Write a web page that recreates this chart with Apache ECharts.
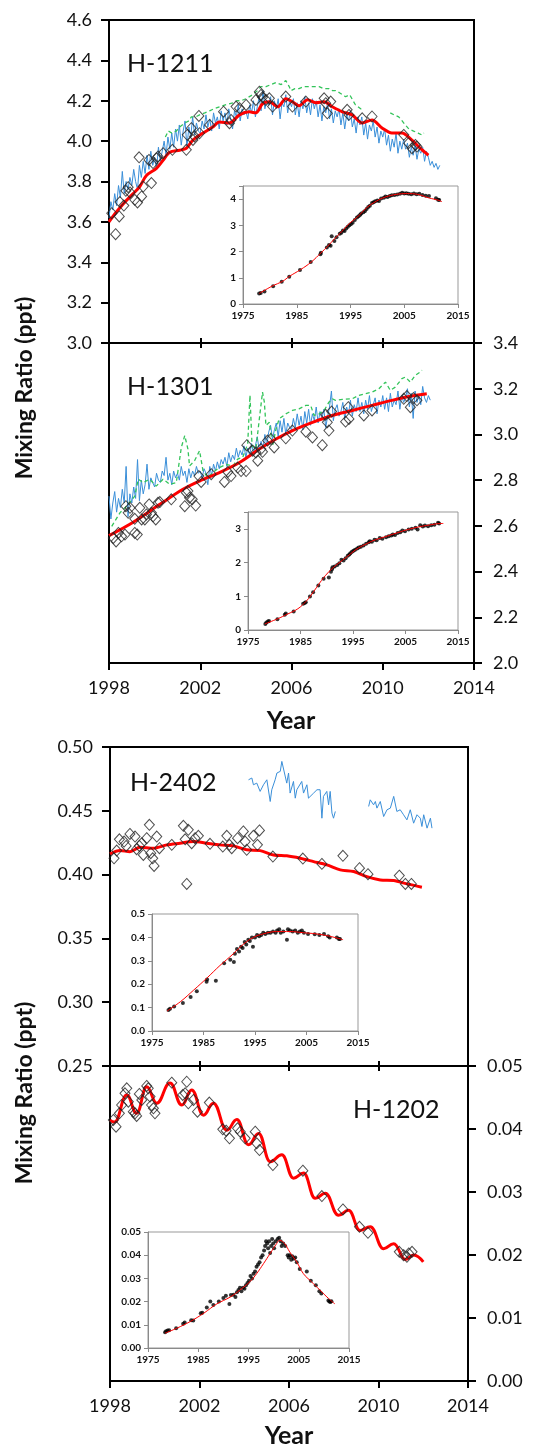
<!DOCTYPE html>
<html>
<head>
<meta charset="utf-8">
<script src="https://cdn.jsdelivr.net/npm/echarts@6/dist/echarts.min.js"></script>
<style>
  html, body { margin: 0; padding: 0; background: #fff; }
  #chart { width: 538px; height: 1448px; }
</style>
</head>
<body>
<div id="chart"></div>
<script>
// halon mixing ratios, 4 panels with long-term insets

// ---- H-1211 ----
const red1211 = [[1998.0,3.60],[1998.26,3.64],[1998.63,3.69],[1999.06,3.74],[1999.35,3.775],[1999.64,3.83],[2000.08,3.865],[2000.37,3.905],[2000.66,3.945],[2001.1,3.955],[2001.39,3.965],[2001.68,4.005],[2002.12,4.04],[2002.55,4.07],[2002.84,4.095],[2003.28,4.09],[2003.72,4.13],[2004.15,4.145],[2004.44,4.14],[2004.73,4.185],[2005.03,4.195],[2005.39,4.17],[2005.75,4.21],[2006.04,4.195],[2006.33,4.175],[2006.7,4.205],[2007.06,4.19],[2007.43,4.195],[2007.79,4.17],[2008.23,4.145],[2008.66,4.13],[2009.1,4.09],[2009.53,4.105],[2009.97,4.065],[2010.4,4.04],[2010.84,4.04],[2011.28,4.005],[2011.64,3.965],[2012.0,3.93]];
// monthly, starting Jan 1998
const blue1211 = [
  3.62,3.70,3.66,3.74,3.68,3.78,3.72,3.85,3.74,3.80,3.76,3.82,
  3.78,3.86,3.80,3.76,3.88,3.82,3.90,3.84,3.93,3.86,3.95,3.88,
  3.92,3.86,3.97,3.90,3.95,4.00,3.93,4.02,3.96,4.04,3.97,4.06,
  4.00,4.08,3.98,4.05,4.10,3.97,4.07,4.02,4.12,4.03,4.09,4.05,
  4.04,4.10,4.06,4.13,4.07,4.11,4.05,4.14,4.09,4.12,4.06,4.15,
  4.10,4.14,4.08,4.16,4.11,4.06,4.15,4.12,4.18,4.10,4.16,4.13,
  4.15,4.11,4.18,4.14,4.20,4.12,4.17,4.22,4.15,4.25,4.16,4.20,
  4.18,4.22,4.13,4.20,4.16,4.21,4.11,4.19,4.17,4.23,4.14,4.20,
  4.17,4.21,4.13,4.19,4.12,4.20,4.16,4.22,4.14,4.19,4.13,4.21,
  4.16,4.20,4.12,4.18,4.10,4.17,4.14,4.19,4.11,4.16,4.09,4.15,
  4.12,4.16,4.08,4.14,4.06,4.13,4.10,4.15,4.07,4.11,4.04,4.12,
  4.08,4.12,4.03,4.09,4.01,4.08,4.05,4.10,4.02,4.07,3.99,4.05,
  4.02,4.06,3.98,4.03,3.95,4.01,3.97,4.04,3.94,4.00,3.96,4.01,
  3.96,3.99,3.92,3.97,3.93,3.98,3.91,3.96,3.94,3.97,3.90,3.95,
  3.92,3.88,3.90,3.87,3.89,3.86,3.88
];
const green1211a = [[2000.47,4.02],[2000.6,4.05],[2000.75,4.04],[2000.95,4.05],[2001.1,4.07],[2001.32,4.09],[2001.5,4.10],[2001.61,4.12],[2001.8,4.12],[2001.97,4.13],[2002.2,4.14],[2002.41,4.15],[2002.6,4.16],[2002.84,4.17],[2003.1,4.18],[2003.43,4.19],[2003.6,4.20],[2003.79,4.20],[2004.0,4.21],[2004.3,4.23],[2004.5,4.25],[2004.66,4.27],[2004.88,4.27],[2005.1,4.28],[2005.32,4.29],[2005.55,4.28],[2005.75,4.30],[2005.9,4.27],[2005.97,4.25],[2006.15,4.26],[2006.33,4.26],[2006.55,4.27],[2006.77,4.27],[2007.0,4.27],[2007.21,4.27],[2007.4,4.26],[2007.64,4.26],[2007.8,4.25],[2007.93,4.25],[2008.1,4.24],[2008.37,4.22],[2008.55,4.23],[2008.7,4.20],[2008.8,4.18],[2009.03,4.16],[2009.17,4.16]];
const green1211b = [[2010.33,4.14],[2010.5,4.13],[2010.7,4.12],[2010.85,4.10],[2010.99,4.08],[2011.15,4.06],[2011.35,4.05],[2011.55,4.04],[2011.72,4.03],[2011.8,4.04]];
const obs1211 = [[1998.12,3.643],[1998.29,3.539],[1998.48,3.698],[1998.45,3.627],[1998.65,3.681],[1998.74,3.754],[1998.84,3.772],[1998.92,3.746],[1999.13,3.709],[1999.25,3.696],[1999.32,3.92],[1999.43,3.726],[1999.5,3.775],[1999.75,3.907],[1999.86,3.792],[1999.93,3.891],[2000.08,3.915],[2000.15,3.924],[2000.37,3.94],[2000.78,3.957],[2001.39,3.957],[2001.43,4.031],[2001.61,4.064],[2001.68,4.006],[2001.75,4.023],[2001.94,4.125],[2001.97,4.039],[2002.41,4.08],[2003.02,4.146],[2003.28,4.089],[2003.35,4.105],[2003.57,4.171],[2003.72,4.163],[2004.01,4.179],[2004.44,4.204],[2004.59,4.245],[2004.66,4.229],[2004.73,4.217],[2004.88,4.204],[2005.03,4.212],[2005.17,4.171],[2005.75,4.221],[2006.04,4.171],[2006.63,4.196],[2007.43,4.212],[2007.5,4.188],[2007.57,4.138],[2007.72,4.196],[2008.44,4.155],[2008.52,4.13],[2009.1,4.113],[2009.53,4.122],[2010.92,4.031],[2011.13,3.99],[2011.28,3.965],[2011.43,3.981],[2011.5,3.973]];
const inRed1211 = [[1978.0,0.40],[1980.4,0.68],[1982.4,0.87],[1983.6,1.05],[1985.7,1.31],[1987.7,1.60],[1989.5,1.95],[1990.7,2.19],[1992.0,2.48],[1993.4,2.77],[1994.8,3.07],[1996.5,3.36],[1998.0,3.67],[1999.8,3.92],[2001.5,4.08],[2003.5,4.18],[2005.5,4.21],[2007.5,4.18],[2009.5,4.05],[2011.5,3.95],[2012.0,3.90]];
const inObs1211 = [[1978.0,0.40],[1978.3,0.42],[1979.0,0.48],[1980.6,0.68],[1982.2,0.85],[1983.6,1.04],[1985.6,1.30],[1987.6,1.60],[1989.4,1.90],[1989.5,1.95],[1990.6,2.15],[1991.0,2.25],[1991.3,2.22],[1991.5,2.58],[1992.0,2.40],[1992.4,2.55],[1993.0,2.68],[1993.3,2.72],[1993.6,2.80],[1993.9,2.78],[1994.2,2.88],[1994.5,2.95],[1994.8,3.00],[1995.1,3.05],[1995.4,3.10],[1995.8,3.20],[1996.2,3.30],[1996.5,3.35],[1996.8,3.40],[1997.0,3.45],[1997.4,3.50],[1997.7,3.55],[1998.0,3.62],[1998.3,3.70],[1998.6,3.75],[1999.0,3.85],[1999.3,3.88],[1999.6,3.92],[2000.0,3.95],[2000.3,3.93],[2000.7,4.02],[2001.2,4.05],[2001.5,4.10],[2001.9,4.08],[2002.3,4.12],[2002.7,4.15],[2003.2,4.16],[2003.7,4.18],[2004.2,4.20],[2004.6,4.24],[2005.0,4.21],[2005.4,4.22],[2005.8,4.20],[2006.3,4.19],[2006.8,4.21],[2007.3,4.19],[2007.8,4.20],[2008.4,4.16],[2009.0,4.13],[2009.6,4.12],[2010.9,4.03],[2011.3,3.98],[2011.5,3.97]];

// ---- H-1301 ----
const red1301 = [[1998.0,2.557],[1999.06,2.616],[2000.23,2.694],[2001.24,2.76],[2001.97,2.796],[2002.84,2.833],[2003.72,2.877],[2004.59,2.936],[2005.32,2.98],[2006.04,3.017],[2006.92,3.053],[2007.79,3.083],[2008.66,3.105],[2009.53,3.127],[2010.4,3.149],[2011.28,3.168],[2011.93,3.178]];
// monthly, starting Jan 1998
const blue1301 = [
  2.73,2.63,2.70,2.75,2.66,2.72,2.68,2.76,2.70,2.86,2.64,2.74,
  2.70,2.77,2.72,2.89,2.71,2.80,2.74,2.78,2.87,2.76,2.81,2.79,
  2.77,2.83,2.80,2.79,2.84,2.82,2.90,2.80,2.83,2.78,2.84,2.81,
  2.83,2.80,2.86,2.82,2.84,2.79,2.85,2.81,2.84,2.82,2.86,2.83,
  2.84,2.81,2.85,2.83,2.78,2.86,2.82,2.87,2.84,2.88,2.85,2.89,
  2.87,2.90,2.86,2.92,2.88,2.91,2.89,2.94,2.90,2.93,2.91,2.95,
  2.90,2.94,2.91,2.96,2.92,2.95,2.99,2.93,2.97,2.94,3.00,2.95,
  3.01,3.04,2.98,3.02,3.05,2.99,3.06,3.01,3.07,3.00,3.05,3.03,
  3.02,3.07,3.03,3.09,3.04,3.08,3.02,3.10,3.05,3.11,3.04,3.09,
  3.06,3.12,3.05,3.10,3.07,3.11,3.03,3.08,3.12,3.19,3.06,3.11,
  3.13,3.08,3.10,3.14,3.07,3.12,3.09,3.15,3.08,3.13,3.10,3.16,
  3.10,3.14,3.09,3.15,3.11,3.17,3.10,3.13,3.16,3.09,3.15,3.12,
  3.17,3.11,3.16,3.10,3.18,3.12,3.15,3.13,3.19,3.11,3.17,3.14,
  3.16,3.20,3.12,3.18,3.07,3.19,3.14,3.17,3.13,3.21,3.16,3.14,
  3.17,3.15
];
const green1301 = [[1998.12,2.598],[1998.48,2.657],[1998.77,2.686],[1999.13,2.73],[1999.28,2.804],[1999.5,2.789],[1999.78,2.804],[2000.07,2.774],[2000.37,2.804],[2000.66,2.782],[2000.95,2.789],[2001.17,2.943],[2001.32,2.995],[2001.46,2.936],[2001.53,2.862],[2001.75,2.885],[2001.97,2.929],[2002.12,2.841],[2002.33,2.811],[2002.55,2.833],[2002.84,2.855],[2003.13,2.869],[2003.43,2.862],[2003.64,2.892],[2003.86,2.90],[2004.08,2.958],[2004.18,3.171],[2004.27,2.951],[2004.44,2.936],[2004.59,3.068],[2004.73,3.185],[2004.81,3.141],[2004.88,3.039],[2005.03,3.053],[2005.17,2.951],[2005.32,3.024],[2005.46,3.068],[2005.75,3.09],[2006.04,3.105],[2006.33,3.112],[2006.63,3.127],[2006.84,3.127],[2006.99,3.083],[2007.21,3.09],[2007.43,3.105],[2007.64,3.141],[2007.79,3.156],[2007.93,3.149],[2008.23,3.153],[2008.66,3.156],[2008.95,3.171],[2009.24,3.178],[2009.53,3.185],[2009.83,3.20],[2010.12,3.229],[2010.33,3.193],[2010.55,3.207],[2010.84,3.244],[2010.99,3.251],[2011.21,3.229],[2011.43,3.259],[2011.64,3.273],[2011.72,3.281]];
const obs1301 = [[1998.19,2.547],[1998.31,2.532],[1998.41,2.569],[1998.55,2.554],[1998.7,2.562],[1998.74,2.686],[1998.84,2.657],[1998.92,2.679],[1999.13,2.569],[1999.24,2.562],[1999.13,2.631],[1999.35,2.679],[1999.43,2.628],[1999.57,2.628],[1999.64,2.65],[1999.76,2.694],[1999.86,2.657],[1999.93,2.642],[2000.05,2.628],[2000.15,2.701],[2000.23,2.704],[2000.73,2.716],[2001.32,2.686],[2001.39,2.745],[2001.46,2.752],[2001.53,2.723],[2001.65,2.716],[2001.8,2.689],[2001.94,2.818],[2002.04,2.792],[2002.48,2.826],[2003.06,2.792],[2003.21,2.836],[2003.35,2.818],[2003.64,2.855],[2003.79,2.84],[2004.01,2.84],[2004.04,2.953],[2004.3,2.929],[2004.44,2.921],[2004.52,2.885],[2004.66,2.936],[2004.73,2.924],[2004.95,2.973],[2005.1,2.98],[2005.24,2.943],[2005.75,2.983],[2006.04,3.017],[2006.63,3.012],[2006.92,2.987],[2007.35,2.953],[2007.5,3.086],[2007.57,3.053],[2007.64,3.017],[2007.76,3.10],[2008.37,3.056],[2008.52,3.068],[2008.49,3.119],[2009.17,3.083],[2009.53,3.105],[2010.92,3.156],[2011.06,3.168],[2011.21,3.119],[2011.35,3.159],[2011.5,3.149]];
const inRed1301 = [[1978.2,0.18],[1980.6,0.33],[1982.5,0.47],[1984.5,0.63],[1986.0,0.84],[1987.0,1.03],[1988.0,1.25],[1989.0,1.47],[1990.0,1.66],[1991.0,1.82],[1992.0,1.95],[1993.0,2.07],[1994.0,2.19],[1995.0,2.32],[1996.0,2.43],[1997.5,2.55],[1999.0,2.66],[2001.0,2.76],[2003.0,2.86],[2005.0,2.96],[2007.0,3.04],[2009.0,3.10],[2011.0,3.15],[2012.2,3.16]];
const inObs1301 = [[1978.3,0.18],[1978.5,0.22],[1978.8,0.25],[1979.0,0.27],[1980.6,0.32],[1982.0,0.45],[1982.2,0.49],[1983.7,0.55],[1985.5,0.78],[1985.8,0.80],[1986.0,0.82],[1986.8,0.99],[1987.4,1.12],[1988.4,1.32],[1989.4,1.52],[1990.4,1.56],[1990.8,1.73],[1991.0,1.80],[1991.1,1.86],[1991.5,1.88],[1992.0,1.93],[1992.4,1.98],[1992.8,2.08],[1993.2,2.06],[1993.6,2.13],[1994.0,2.20],[1994.3,2.24],[1994.5,2.28],[1994.8,2.32],[1995.1,2.35],[1995.4,2.38],[1995.8,2.42],[1996.1,2.45],[1996.5,2.47],[1997.0,2.51],[1997.5,2.56],[1998.0,2.60],[1998.2,2.63],[1998.6,2.62],[1999.1,2.68],[1999.5,2.66],[2000.1,2.73],[2000.6,2.71],[2001.3,2.75],[2001.8,2.78],[2002.3,2.80],[2002.6,2.83],[2003.0,2.82],[2003.5,2.88],[2004.0,2.90],[2004.4,2.95],[2004.9,2.93],[2005.6,2.98],[2006.2,3.00],[2006.9,3.03],[2007.3,2.98],[2007.8,3.11],[2008.3,3.07],[2008.7,3.10],[2009.3,3.08],[2009.9,3.11],[2010.5,3.12],[2011.2,3.18],[2011.4,3.16]];

// ---- H-2402 ----
const red2402 = [[1998.0,0.4162],[1998.45,0.4188],[1998.89,0.418],[1999.34,0.4215],[1999.94,0.4207],[2000.54,0.4233],[2001.13,0.4246],[2001.73,0.4259],[2002.32,0.4246],[2002.92,0.4233],[2003.52,0.4225],[2004.11,0.4194],[2004.71,0.4188],[2005.31,0.4154],[2005.9,0.4147],[2006.5,0.4128],[2007.1,0.4102],[2007.69,0.4076],[2008.29,0.4037],[2008.89,0.4024],[2009.48,0.3984],[2010.08,0.3958],[2010.68,0.3953],[2011.27,0.3927],[2011.94,0.3901]];
const blue2402a = [[2004.19,0.4743],[2004.34,0.4757],[2004.41,0.4704],[2004.56,0.4717],[2004.71,0.4652],[2004.86,0.4704],[2005.01,0.4743],[2005.16,0.4573],[2005.23,0.4665],[2005.38,0.4743],[2005.46,0.4796],[2005.61,0.4809],[2005.68,0.4887],[2005.75,0.4874],[2005.9,0.4717],[2005.98,0.4796],[2006.05,0.4639],[2006.2,0.473],[2006.28,0.4599],[2006.35,0.4665],[2006.43,0.4678],[2006.57,0.473],[2006.65,0.4639],[2006.8,0.4704],[2006.87,0.4599],[2006.95,0.4613],[2007.1,0.4639],[2007.25,0.4665],[2007.39,0.4665],[2007.47,0.4442],[2007.54,0.4613],[2007.69,0.4652],[2007.77,0.4547],[2007.84,0.4652],[2007.92,0.4482],[2007.99,0.4442],[2008.07,0.4495]];
const blue2402b = [[2009.56,0.4534],[2009.63,0.4586],[2009.78,0.4547],[2009.86,0.4573],[2009.93,0.4521],[2010.08,0.4573],[2010.23,0.4455],[2010.38,0.4508],[2010.53,0.4521],[2010.68,0.4613],[2010.82,0.4495],[2010.97,0.4508],[2011.12,0.4469],[2011.27,0.4429],[2011.42,0.4508],[2011.57,0.4403],[2011.72,0.4469],[2011.87,0.4442],[2011.94,0.4377],[2012.02,0.4469],[2012.17,0.4364],[2012.32,0.4442],[2012.39,0.4364]];
const obs2402 = [[1998.18,0.4128],[1998.3,0.4188],[1998.42,0.4277],[1998.63,0.4259],[1998.72,0.4225],[1998.89,0.4319],[1999.12,0.4298],[1999.19,0.4199],[1999.31,0.4225],[1999.42,0.4246],[1999.49,0.4154],[1999.64,0.4285],[1999.76,0.439],[1999.82,0.4168],[1999.91,0.4128],[1999.97,0.4068],[2000.09,0.4298],[2000.21,0.4207],[2000.76,0.4233],[2001.28,0.4382],[2001.36,0.4277],[2001.43,0.3927],[2001.5,0.4351],[2001.65,0.4246],[2001.8,0.4285],[2001.95,0.4304],[2002.47,0.4241],[2003.04,0.422],[2003.22,0.4304],[2003.34,0.4233],[2003.44,0.4207],[2003.7,0.4285],[2003.96,0.4338],[2004.04,0.4259],[2004.11,0.4194],[2004.41,0.4304],[2004.59,0.4233],[2004.68,0.4346],[2005.28,0.4141],[2006.62,0.4126],[2007.47,0.4084],[2008.41,0.4147],[2009.15,0.405],[2009.53,0.4003],[2010.93,0.3992],[2011.2,0.3927],[2011.47,0.3927]];
const inRed2402 = [[1977.9,0.085],[1980.5,0.125],[1983.1,0.175],[1985.6,0.225],[1988.2,0.28],[1990.8,0.33],[1992.7,0.37],[1994.7,0.40],[1996.6,0.415],[1999.2,0.425],[2001.8,0.425],[2004.4,0.42],[2006.9,0.415],[2009.5,0.405],[2012.1,0.39]];
const inObs2402 = [[1978.2,0.09],[1978.5,0.095],[1979.3,0.105],[1981.0,0.12],[1982.5,0.145],[1983.7,0.17],[1985.6,0.21],[1985.7,0.22],[1987.4,0.215],[1989.0,0.29],[1990.2,0.305],[1990.9,0.295],[1991.1,0.33],[1991.5,0.35],[1991.9,0.34],[1992.3,0.36],[1992.6,0.355],[1993.0,0.38],[1993.3,0.37],[1993.7,0.39],[1994.0,0.385],[1994.4,0.40],[1994.6,0.36],[1995.0,0.40],[1995.4,0.41],[1995.8,0.405],[1996.2,0.41],[1996.6,0.42],[1997.0,0.415],[1997.5,0.42],[1998.0,0.42],[1998.5,0.425],[1999.0,0.42],[1999.3,0.43],[1999.7,0.435],[2000.0,0.42],[2000.5,0.425],[2001.2,0.39],[2001.4,0.435],[2001.8,0.43],[2002.3,0.425],[2002.8,0.43],[2003.3,0.42],[2003.7,0.425],[2004.1,0.43],[2004.5,0.42],[2005.3,0.415],[2006.6,0.413],[2007.5,0.41],[2008.4,0.415],[2009.2,0.405],[2009.5,0.40],[2010.9,0.40],[2011.3,0.393],[2011.5,0.393]];

// ---- H-1202 ----
const red1202 = [[1998.0,0.0414],[1998.2,0.0411],[1998.75,0.0454],[1999.19,0.0425],[1999.64,0.0467],[2000.09,0.0441],[2000.68,0.0473],[2001.21,0.0438],[2001.65,0.0462],[2002.18,0.0422],[2002.62,0.0441],[2003.22,0.0398],[2003.67,0.0415],[2004.19,0.0375],[2004.64,0.0393],[2005.16,0.0348],[2005.68,0.0359],[2006.2,0.0322],[2006.65,0.033],[2007.17,0.029],[2007.62,0.0298],[2008.21,0.0263],[2008.66,0.0271],[2009.18,0.0239],[2009.63,0.0245],[2010.23,0.021],[2010.68,0.0218],[2011.2,0.0193],[2011.57,0.02],[2012.0,0.0189]];
const obs1202 = [[1998.15,0.04143],[1998.27,0.04037],[1998.42,0.04249],[1998.52,0.04381],[1998.67,0.04567],[1998.75,0.04646],[1998.82,0.04434],[1999.04,0.04275],[1999.12,0.04249],[1999.19,0.04207],[1999.31,0.04556],[1999.42,0.04461],[1999.64,0.04683],[1999.71,0.04646],[1999.79,0.04514],[1999.86,0.04381],[1999.94,0.04328],[2000.01,0.04249],[2000.76,0.04736],[2001.25,0.0454],[2001.36,0.04567],[2001.43,0.0475],[2001.5,0.04408],[2001.73,0.04461],[2001.91,0.04275],[2002.44,0.04419],[2003.04,0.03995],[2003.19,0.03974],[2003.34,0.03852],[2003.7,0.04011],[2003.82,0.03958],[2004.04,0.03852],[2004.49,0.03958],[2004.56,0.03772],[2004.68,0.03666],[2005.28,0.03428],[2006.62,0.03338],[2007.47,0.02935],[2008.41,0.02723],[2009.15,0.02448],[2009.53,0.02352],[2010.93,0.0205],[2011.12,0.01997],[2011.27,0.01971],[2011.35,0.02024],[2011.5,0.0205]];
const inRed1202 = [[1978.4,0.0064],[1980.8,0.0086],[1983.4,0.0114],[1986.1,0.015],[1988.7,0.019],[1991.4,0.022],[1993.3,0.025],[1995.3,0.0286],[1996.6,0.032],[1998.0,0.0364],[1999.3,0.0407],[2000.6,0.045],[2001.2,0.0464],[2002.2,0.045],[2003.2,0.0414],[2004.6,0.0371],[2005.9,0.0321],[2007.5,0.0286],[2009.2,0.025],[2010.9,0.0214],[2012.2,0.019]];
const inObs1202 = [[1978.4,0.0068],[1978.6,0.0072],[1978.9,0.0075],[1979.2,0.0077],[1980.6,0.0085],[1982.0,0.0105],[1982.3,0.011],[1983.6,0.012],[1984.0,0.0118],[1985.5,0.015],[1985.8,0.0152],[1986.7,0.0175],[1987.4,0.020],[1988.0,0.0185],[1989.1,0.020],[1990.0,0.0215],[1990.5,0.0225],[1991.2,0.019],[1991.5,0.0228],[1992.0,0.023],[1992.4,0.022],[1992.7,0.024],[1993.0,0.025],[1993.3,0.026],[1993.6,0.0245],[1993.9,0.026],[1994.2,0.0255],[1994.5,0.027],[1994.8,0.028],[1995.1,0.029],[1995.4,0.031],[1995.7,0.030],[1996.0,0.032],[1996.3,0.033],[1996.6,0.035],[1996.9,0.036],[1997.2,0.037],[1997.5,0.039],[1997.8,0.040],[1998.1,0.042],[1998.3,0.044],[1998.5,0.046],[1998.7,0.045],[1998.9,0.043],[1999.1,0.046],[1999.3,0.041],[1999.5,0.044],[1999.7,0.047],[1999.9,0.045],[2000.1,0.043],[2000.4,0.046],[2000.8,0.047],[2001.1,0.0475],[2001.4,0.046],[2001.6,0.044],[2001.9,0.045],[2002.3,0.044],[2002.8,0.040],[2003.0,0.039],[2003.2,0.040],[2003.5,0.038],[2003.7,0.0395],[2004.0,0.0385],[2004.3,0.039],[2004.6,0.037],[2005.2,0.034],[2006.6,0.033],[2007.4,0.029],[2008.4,0.027],[2009.1,0.0245],[2009.5,0.0235],[2010.9,0.0205],[2011.1,0.020],[2011.3,0.0198],[2011.5,0.0202]];

const monthly = (vals, start) => vals.map((v, i) => [start + i / 12, v]);

const FONT = 'Lato, "Open Sans", sans-serif';
const BLUE = '#3a8fd9';
const GREEN = '#33c45a';
const RED = '#ff0000';
const yearFmt = v => String(Math.round(v));

const chart = echarts.init(document.getElementById('chart'), null, { renderer: 'canvas' });

function mainX(grid, opts) {
  return Object.assign({
    type: 'value', gridIndex: grid, min: 1998, max: 2014, interval: 4,
    splitLine: { show: false },
    axisLine: { lineStyle: { color: '#000', width: 2 } },
    axisTick: { inside: true, length: 5, lineStyle: { color: '#000', width: 2 } },
    axisLabel: { show: false }
  }, opts);
}
function mainY(grid, opts) {
  return Object.assign({
    type: 'value', gridIndex: grid,
    splitLine: { show: false },
    axisLine: { lineStyle: { color: '#000', width: 2 } },
    axisTick: { length: 8, lineStyle: { color: '#000', width: 2 } }
  }, opts);
}
function insetX(grid) {
  return {
    type: 'value', gridIndex: grid, min: 1975, max: 2015, interval: 10,
    splitLine: { show: false },
    axisLine: { lineStyle: { color: '#8a8a8a', width: 1 } },
    axisTick: { length: 4, lineStyle: { color: '#8a8a8a' } },
    axisLabel: { fontFamily: FONT, fontSize: 10, fontWeight: 'bold', color: '#111', margin: 7, formatter: yearFmt }
  };
}
function insetY(grid, max, interval, fmt) {
  return {
    type: 'value', gridIndex: grid, min: 0, max: max, interval: interval,
    splitLine: { show: false },
    axisLine: { show: true, lineStyle: { color: '#8a8a8a', width: 1 } },
    axisTick: { show: true, length: 4, lineStyle: { color: '#8a8a8a' } },
    axisLabel: { fontFamily: FONT, fontSize: 10, fontWeight: 'bold', color: '#111', margin: 7, formatter: fmt }
  };
}
const yLabel = (margin, digits) => ({ fontFamily: FONT, fontSize: 18, color: '#111', margin: margin, formatter: v => v.toFixed(digits) });
const xLabeled = {
  axisTick: { inside: false, length: 7, lineStyle: { color: '#000', width: 2 } },
  axisLabel: { show: true, fontFamily: FONT, fontSize: 18, color: '#111', margin: 16, formatter: yearFmt }
};

function line(xi, yi, data, color, width, extra) {
  return Object.assign({
    type: 'line', xAxisIndex: xi, yAxisIndex: yi, data: data,
    showSymbol: false, symbol: 'none', silent: true,
    lineStyle: { color: color, width: width }
  }, extra);
}
function dashed(xi, yi, data) {
  return line(xi, yi, data, GREEN, 1.3, { lineStyle: { color: GREEN, width: 1.3, type: [4, 3] } });
}
function diamonds(xi, yi, data) {
  return {
    type: 'scatter', xAxisIndex: xi, yAxisIndex: yi, data: data, silent: true,
    symbol: 'diamond', symbolSize: [10, 11], z: 5,
    itemStyle: { color: 'rgba(255,255,255,0)', borderColor: '#222', borderWidth: 1 }
  };
}
function dots(xi, yi, data) {
  return {
    type: 'scatter', xAxisIndex: xi, yAxisIndex: yi, data: data, silent: true,
    symbol: 'circle', symbolSize: 4, z: 5, itemStyle: { color: '#000' }
  };
}

const mainGrid = (l, t, w, h) => ({ left: l, top: t, width: w, height: h, show: true, borderColor: '#000', borderWidth: 2 });
const insetGrid = (l, t, w, h) => ({ left: l, top: t, width: w, height: h, show: true, borderColor: '#999', borderWidth: 1, backgroundColor: '#fff' });
const centred = { textAlign: 'center', textVerticalAlign: 'middle', align: 'center', verticalAlign: 'middle', fill: '#111' };

const option = {
  animation: false,
  backgroundColor: '#fff',
  grid: [
    mainGrid(109, 20, 365, 323),
    mainGrid(109, 343, 365, 320),
    mainGrid(110, 747, 358, 319),
    mainGrid(110, 1066, 358, 315),
    insetGrid(243, 186, 215, 118),
    insetGrid(248, 512, 210, 118),
    insetGrid(152, 914, 206, 117),
    insetGrid(148, 1232, 201, 116)
  ],
  xAxis: [
    mainX(0, {}),
    mainX(1, xLabeled),
    mainX(1, { position: 'top' }),
    mainX(2, {}),
    mainX(3, xLabeled),
    mainX(3, { position: 'top' }),
    insetX(4), insetX(5), insetX(6), insetX(7)
  ],
  yAxis: [
    mainY(0, { min: 3.0, max: 4.6, interval: 0.2, axisLabel: yLabel(17, 1) }),
    mainY(1, { position: 'right', min: 2.0, max: 3.4, interval: 0.2, axisLabel: yLabel(19, 1) }),
    mainY(2, { min: 0.25, max: 0.50, interval: 0.05, axisLabel: yLabel(17, 2) }),
    mainY(3, { position: 'right', min: 0, max: 0.05, interval: 0.01, axisLabel: yLabel(19, 2) }),
    insetY(4, 4.5, 1, v => (Math.abs(v - Math.round(v)) < 1e-9 ? String(Math.round(v)) : '')),
    insetY(5, 3.5, 1, v => (Math.abs(v - Math.round(v)) < 1e-9 ? String(Math.round(v)) : '')),
    insetY(6, 0.5, 0.1, v => v.toFixed(1)),
    insetY(7, 0.05, 0.01, v => v.toFixed(2))
  ],
  series: [
    // H-1211
    line(0, 0, monthly(blue1211, 1998), BLUE, 1),
    dashed(0, 0, green1211a),
    dashed(0, 0, green1211b),
    line(0, 0, red1211, RED, 3, { smooth: 0.3, z: 4 }),
    diamonds(0, 0, obs1211),
    // H-1301
    line(1, 1, monthly(blue1301, 1998), BLUE, 1),
    dashed(1, 1, green1301),
    line(1, 1, red1301, RED, 3, { smooth: 0.3, z: 4 }),
    diamonds(1, 1, obs1301),
    // H-2402
    line(3, 2, blue2402a, BLUE, 1),
    line(3, 2, blue2402b, BLUE, 1),
    line(3, 2, red2402, RED, 3, { smooth: 0.3, z: 4 }),
    diamonds(3, 2, obs2402),
    // H-1202
    line(4, 3, red1202, RED, 3, { smooth: 0.45, smoothMonotone: 'x', z: 4 }),
    diamonds(4, 3, obs1202),
    // insets
    line(6, 4, inRed1211, RED, 1, { smooth: 0.4, z: 6 }),
    dots(6, 4, inObs1211),
    line(7, 5, inRed1301, RED, 1, { smooth: 0.4, z: 6 }),
    dots(7, 5, inObs1301),
    line(8, 6, inRed2402, RED, 1, { smooth: 0.4, z: 6 }),
    dots(8, 6, inObs2402),
    line(9, 7, inRed1202, RED, 1, { smooth: 0.4, z: 6 }),
    dots(9, 7, inObs1202)
  ],
  graphic: [
    { type: 'text', left: 127, top: 51, style: { text: 'H-1211', font: '25px ' + FONT, fill: '#111' } },
    { type: 'text', left: 127, top: 374, style: { text: 'H-1301', font: '25px ' + FONT, fill: '#111' } },
    { type: 'text', left: 130, top: 770, style: { text: 'H-2402', font: '25px ' + FONT, fill: '#111' } },
    { type: 'text', left: 353, top: 1097, style: { text: 'H-1202', font: '25px ' + FONT, fill: '#111' } },
    { type: 'text', x: 291, y: 721, style: Object.assign({ text: 'Year', font: 'bold 25px ' + FONT }, centred) },
    { type: 'text', x: 289, y: 1436, style: Object.assign({ text: 'Year', font: 'bold 25px ' + FONT }, centred) },
    { type: 'text', x: 25, y: 388, rotation: Math.PI / 2, style: Object.assign({ text: 'Mixing Ratio (ppt)', font: 'bold 23px ' + FONT }, centred) },
    { type: 'text', x: 25, y: 1093, rotation: Math.PI / 2, style: Object.assign({ text: 'Mixing Ratio (ppt)', font: 'bold 23px ' + FONT }, centred) }
  ]
};

chart.setOption(option);
</script>
</body>
</html>
